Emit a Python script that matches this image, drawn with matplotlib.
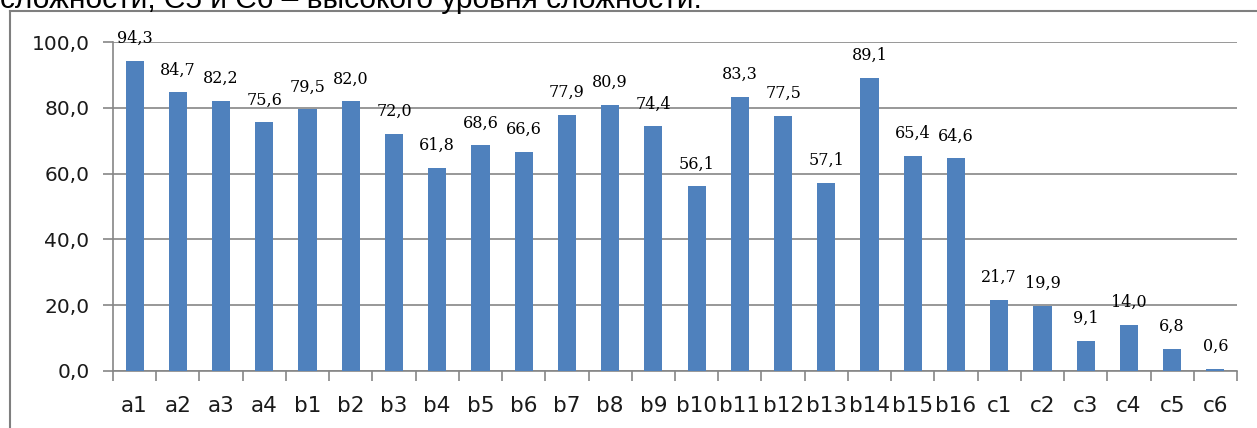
import numpy as np
import matplotlib.pyplot as plt
from matplotlib.lines import Line2D
from matplotlib.ticker import FuncFormatter, FixedLocator

categories = ['a1', 'a2', 'a3', 'a4',
              'b1', 'b2', 'b3', 'b4', 'b5', 'b6', 'b7', 'b8',
              'b9', 'b10', 'b11', 'b12', 'b13', 'b14', 'b15', 'b16',
              'c1', 'c2', 'c3', 'c4', 'c5', 'c6']
values = [94.3, 84.7, 82.2, 75.6,
          79.5, 82.0, 72.0, 61.8, 68.6, 66.6, 77.9, 80.9,
          74.4, 56.1, 83.3, 77.5, 57.1, 89.1, 65.4, 64.6,
          21.7, 19.9, 9.1, 14.0, 6.8, 0.6]

W, H = 1257, 428
fig = plt.figure(figsize=(W / 100, H / 100), dpi=100)
ax = fig.add_axes([113 / W, 1 - 371 / H, (1237 - 113) / W, (371 - 42) / H])

grey = '#868686'
x = np.arange(len(categories))
ax.bar(x, values, width=0.42, color='#4F81BD', zorder=3)

for xi, v in zip(x, values):
    ax.annotate(f'{v:.1f}'.replace('.', ','), (xi, v), xytext=(0, 10),
                textcoords='offset points', ha='center', va='bottom',
                fontsize=11.5, family='DejaVu Serif', color='black')

ax.set_xlim(-0.5, len(categories) - 0.5)
ax.set_ylim(0, 100)
ax.set_yticks(np.arange(0, 101, 20))
ax.yaxis.set_major_formatter(FuncFormatter(lambda v, p: f'{v:.1f}'.replace('.', ',')))
ax.yaxis.grid(True, color=grey, linewidth=1.2, zorder=0)

ax.set_xticks(x)
ax.set_xticklabels(categories)
ax.xaxis.set_minor_locator(FixedLocator(np.arange(-0.5, len(categories), 1)))
ax.tick_params(axis='x', which='major', length=0, pad=18, labelsize=15.5)
ax.tick_params(axis='x', which='minor', length=7, width=1.2, color=grey)
ax.tick_params(axis='y', length=7, width=1.2, color=grey, pad=10, labelsize=14.5)
for lab in ax.get_xticklabels() + ax.get_yticklabels():
    lab.set_family('DejaVu Sans')
    lab.set_color('#1a1a1a')

for s in ['top', 'right']:
    ax.spines[s].set_visible(False)
for s in ['left', 'bottom']:
    ax.spines[s].set_color(grey)
    ax.spines[s].set_linewidth(1.2)

# outer chart frame
fig.add_artist(Line2D([10 / W, 10 / W], [0, 1 - 11 / H], transform=fig.transFigure,
                      color='#7f7f7f', linewidth=1.5))
fig.add_artist(Line2D([10 / W, 1], [1 - 11 / H, 1 - 11 / H], transform=fig.transFigure,
                      color='#7f7f7f', linewidth=1.5))

# cut-off caption from the page above
fig.text(0, 1 - 8 / H, 'сложности; С5 и С6 – высокого уровня сложности.',
         ha='left', va='baseline', fontsize=21.5, family='Liberation Sans')

fig.savefig('out.png', dpi=100)
